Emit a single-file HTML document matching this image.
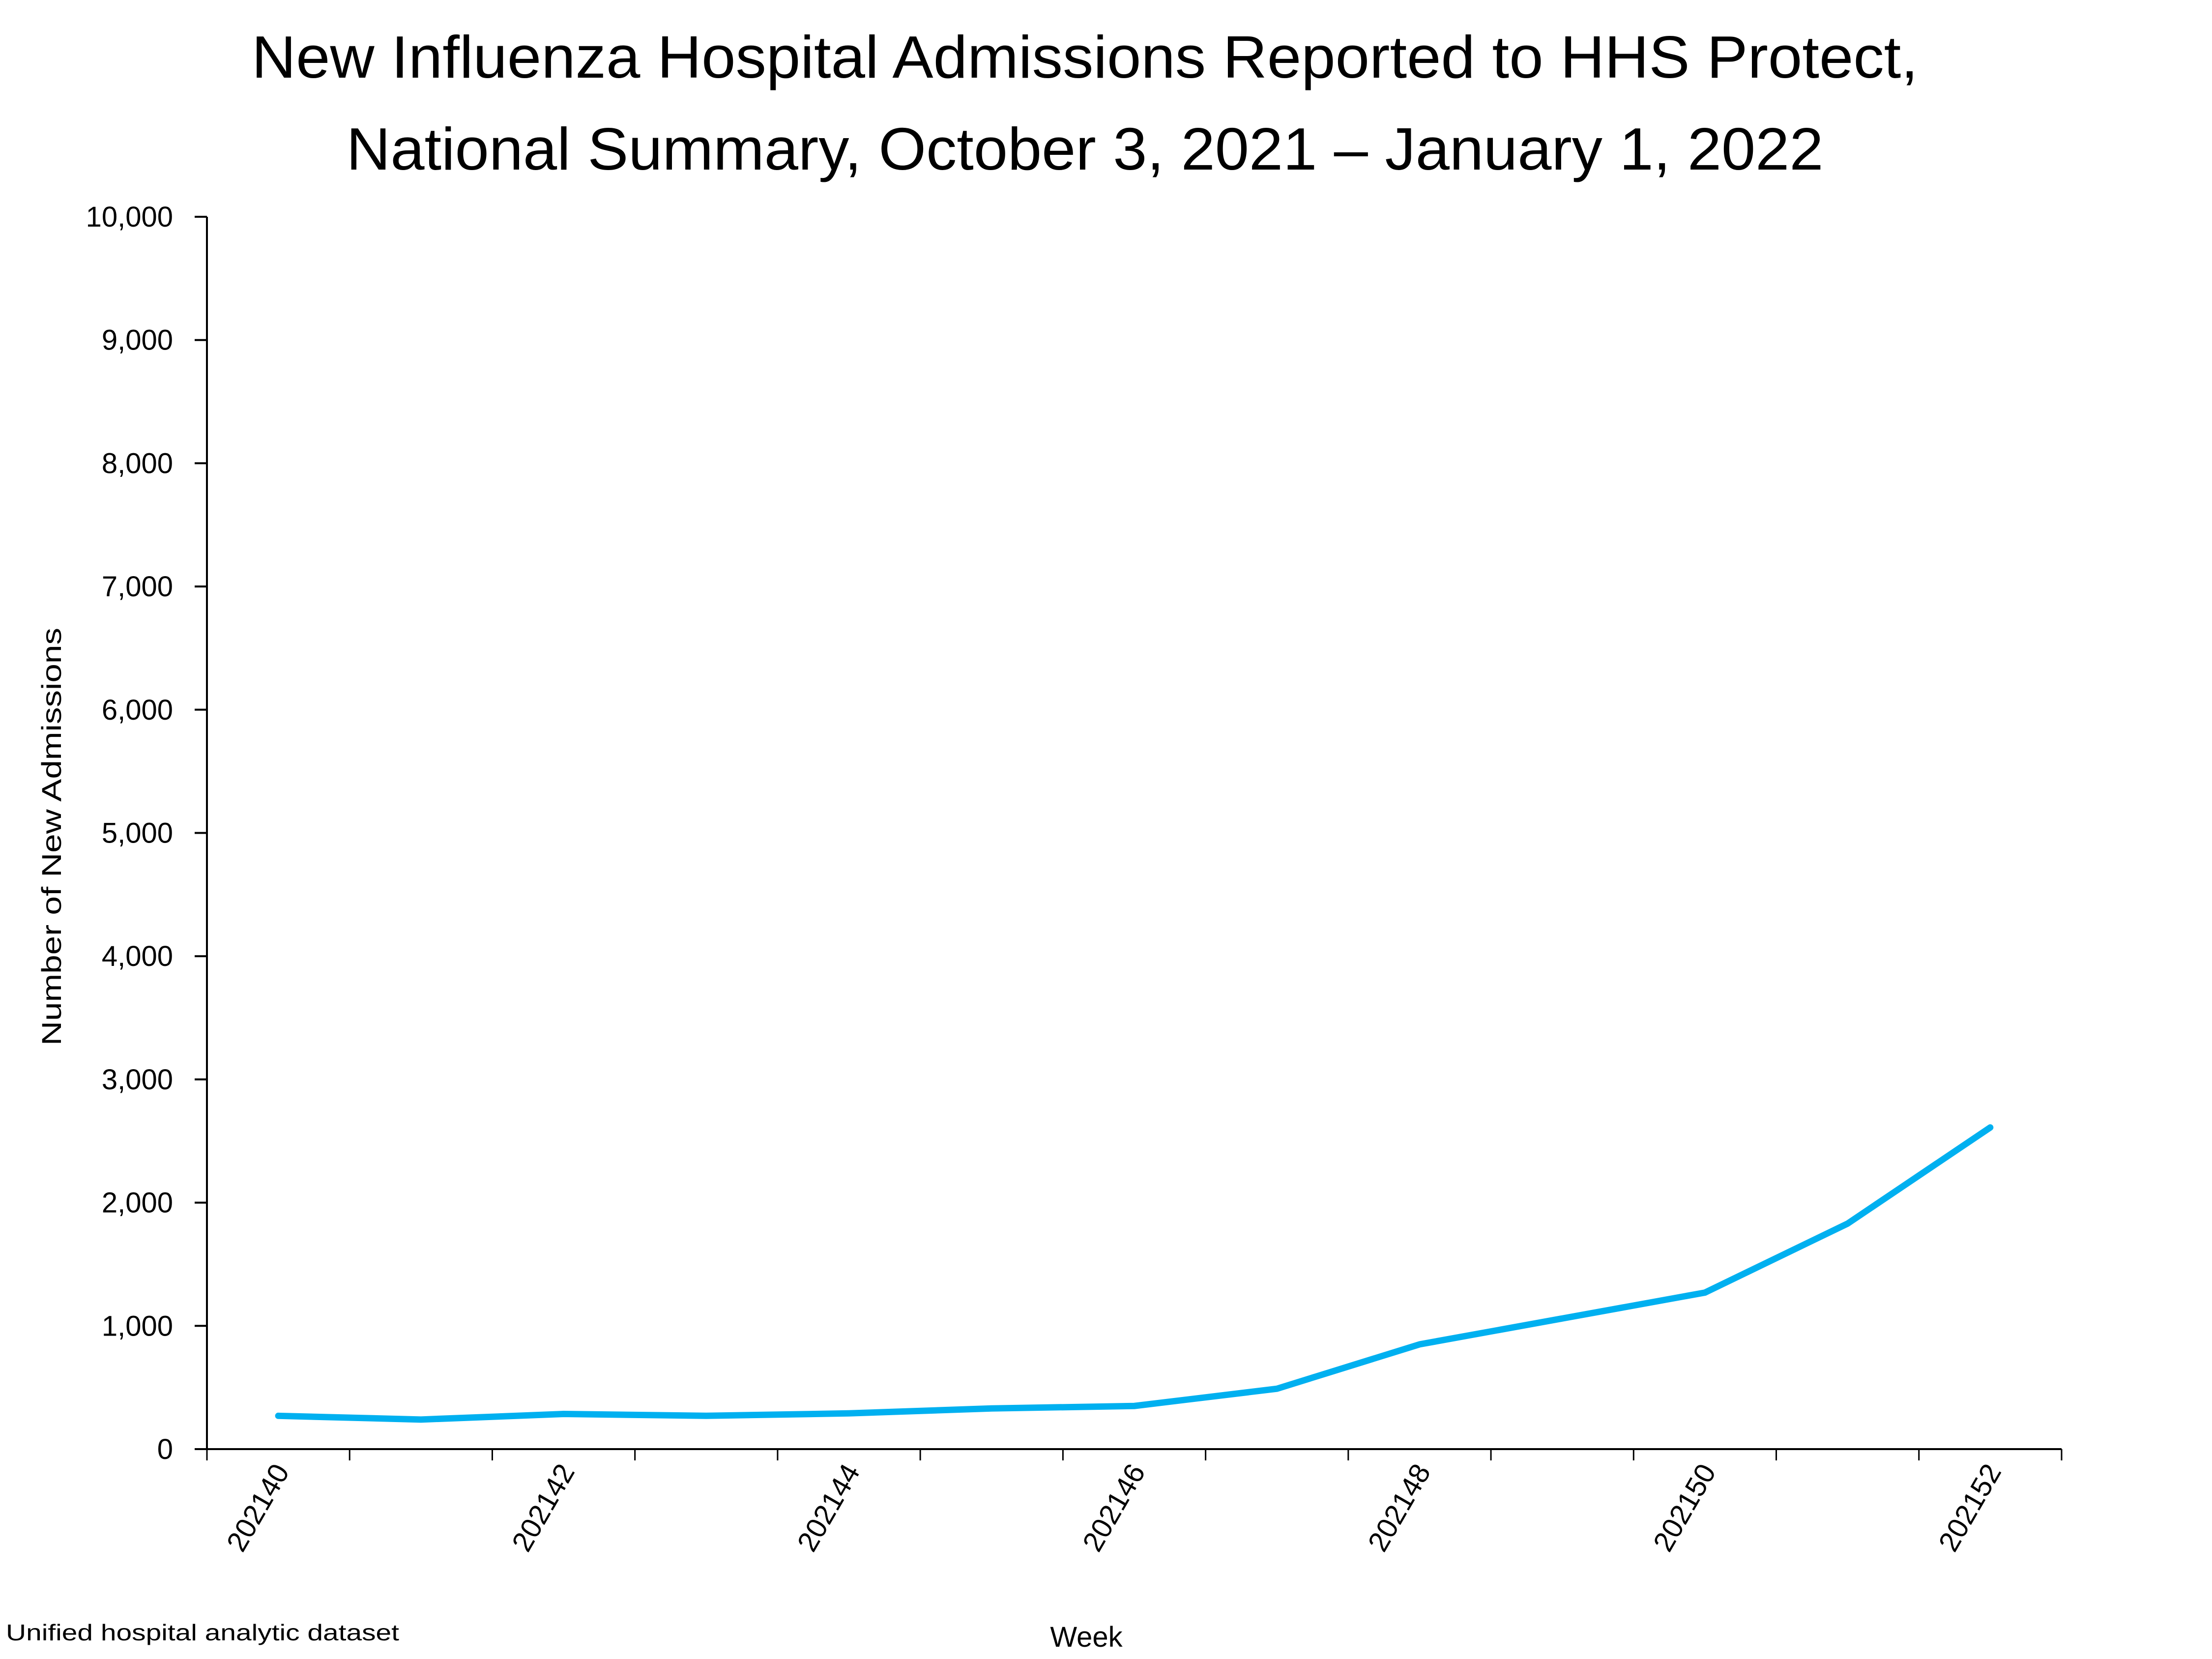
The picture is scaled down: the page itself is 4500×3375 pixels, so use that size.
<!DOCTYPE html>
<html><head><meta charset="utf-8"><style>html,body{margin:0;padding:0;background:#fff}svg{display:block}</style></head>
<body>
<svg id="chart" width="4500" height="3375" viewBox="0 0 4500 3375" xmlns="http://www.w3.org/2000/svg" font-family="'Liberation Sans', sans-serif">
<rect width="4500" height="3375" fill="#fff"/>
<text x="2207" y="158" font-size="122" text-anchor="middle" textLength="3390" lengthAdjust="spacingAndGlyphs">New Influenza Hospital Admissions Reported to HHS Protect,</text>
<text x="2207" y="345" font-size="122" text-anchor="middle" textLength="3005" lengthAdjust="spacingAndGlyphs">National Summary, October 3, 2021 – January 1, 2022</text>
<text transform="translate(124,1702) rotate(-90)" font-size="56" text-anchor="middle" textLength="850" lengthAdjust="spacingAndGlyphs">Number of New Admissions</text>
<text x="2210" y="3350" font-size="58" text-anchor="middle">Week</text>
<text x="12" y="3337" font-size="46" textLength="800" lengthAdjust="spacingAndGlyphs">Unified hospital analytic dataset</text>
<g id="axes"></g>
<g id="marks"></g>
</svg>
<script>
const categories = ["202140","202141","202142","202143","202144","202145","202146","202147","202148","202149","202150","202151","202152"];
const values = [270, 240, 285, 270, 290, 330, 350, 490, 850, 1060, 1270, 1830, 2610];
const yTicks = [0,1000,2000,3000,4000,5000,6000,7000,8000,9000,10000];
const yTickLabels = ["0","1,000","2,000","3,000","4,000","5,000","6,000","7,000","8,000","9,000","10,000"];

const NS = "http://www.w3.org/2000/svg";
const L = 421, R = 4194, T = 441, B = 2948, yMax = 10000;
const band = (R - L) / categories.length;
const x = i => L + band * (i + 0.5);
const y = v => B - (v / yMax) * (B - T);
const axes = document.getElementById('axes');
const marks = document.getElementById('marks');
function mk(tag, attrs, parent) {
  const e = document.createElementNS(NS, tag);
  for (const k in attrs) e.setAttribute(k, attrs[k]);
  parent.appendChild(e);
  return e;
}
const ya = mk('line', {x1: L, y1: T, x2: L, y2: B, stroke: '#000', 'stroke-width': 4}, axes);


const xa = mk('line', {x1: L - 25, y1: B, x2: R, y2: B, stroke: '#000', 'stroke-width': 4}, axes);


yTicks.forEach((v, i) => {
  const t = mk('line', {x1: L - 25, y1: y(v), x2: L, y2: y(v), stroke: '#000', 'stroke-width': 4}, axes);
  
  
  const lb = mk('text', {x: 352, y: y(v) + 20, 'font-size': 58, 'text-anchor': 'end'}, axes);
  lb.textContent = yTickLabels[i];
  
  
});
for (let i = 0; i <= categories.length; i++) {
  const xx = L + band * i;
  const t = mk('line', {x1: xx, y1: B, x2: xx, y2: B + 23, stroke: '#000', 'stroke-width': 3}, axes);
  
  
}
categories.forEach((c, i) => {
  if (i % 2) return;
  const lb = mk('text', {transform: `translate(${x(i) + 24},${B + 45}) rotate(-60)`, 'font-size': 58, 'text-anchor': 'end'}, axes);
  lb.textContent = c;
  
  
});
const pts = values.map((v, i) => x(i) + ',' + y(v)).join(' ');
const line = mk('polyline', {points: pts, fill: 'none', stroke: '#00B0F0', 'stroke-width': 13, 'stroke-linejoin': 'round', 'stroke-linecap': 'round'}, marks);


</script>
</body></html>
